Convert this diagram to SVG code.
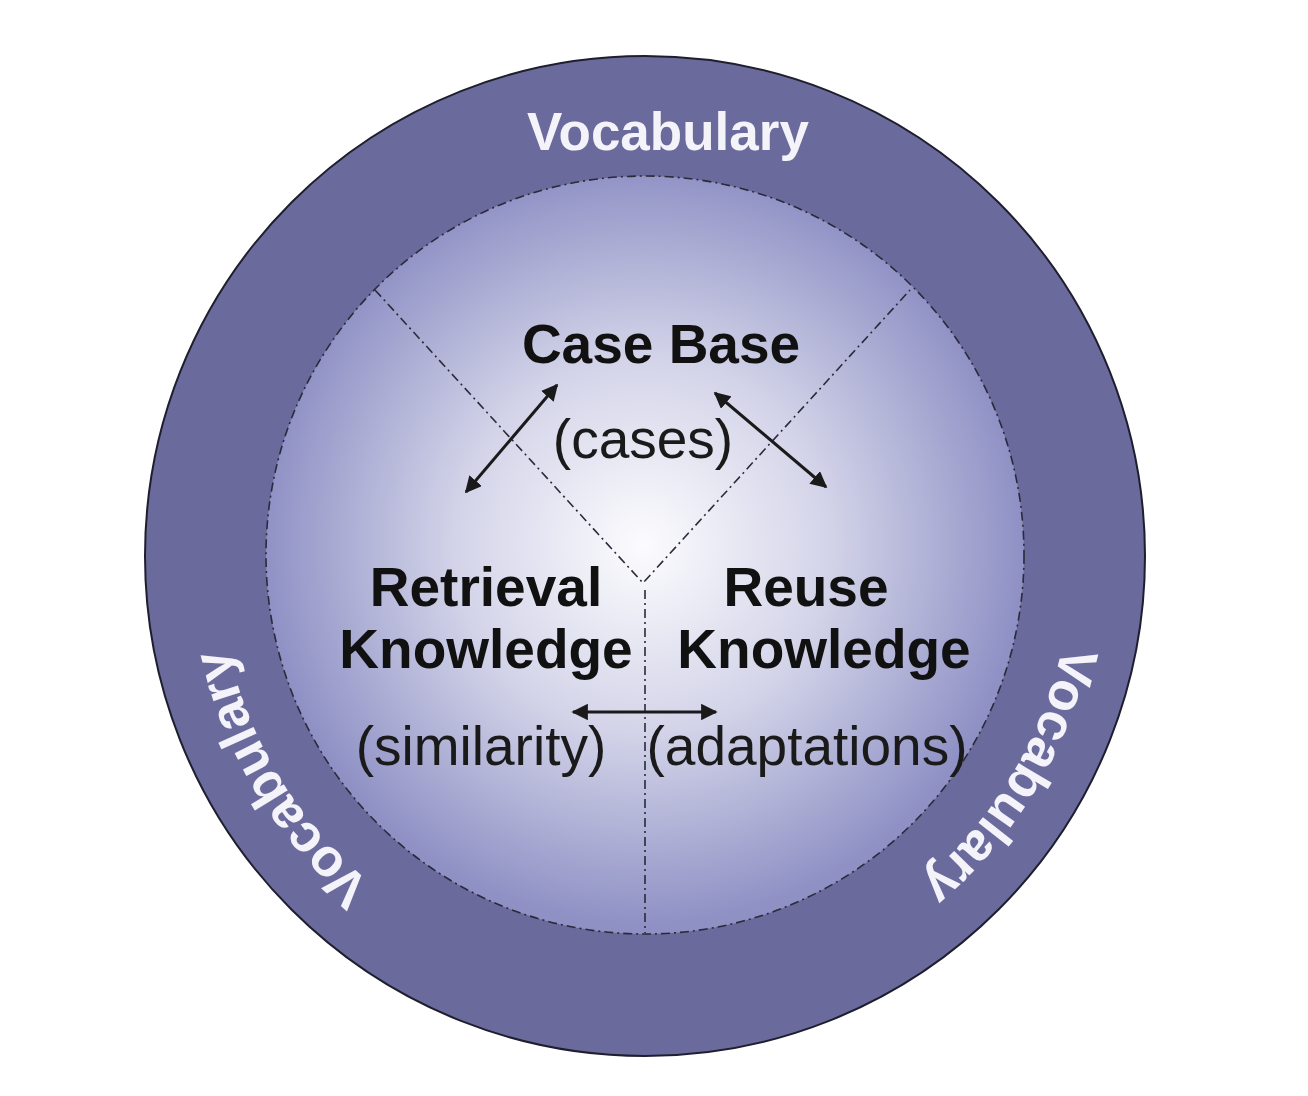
<svg xmlns="http://www.w3.org/2000/svg" width="1308" height="1096" viewBox="0 0 1308 1096">
<defs>
<radialGradient id="ig" cx="643" cy="545" r="379" gradientUnits="userSpaceOnUse">
<stop offset="0" stop-color="#fcfcfe"/>
<stop offset="0.5" stop-color="#d2d3e8"/>
<stop offset="1" stop-color="#8f91c5"/>
</radialGradient>
<marker id="ah" viewBox="0 0 10 10" refX="9" refY="5" markerWidth="5.5" markerHeight="5.5" markerUnits="strokeWidth" orient="auto-start-reverse">
<path d="M0,0 L10,5 L0,10 z" fill="#1a1a1a"/>
</marker>
<path id="ringSide" d="M645,983 A427,427 0 1 1 645,129 A427,427 0 1 1 645,983"/>
</defs>
<style>
.b{font-family:"Liberation Sans",Arial,sans-serif;font-weight:bold;font-size:55px;fill:#111;text-anchor:middle}
.r{font-family:"Liberation Sans",Arial,sans-serif;font-size:55px;fill:#1a1a1a;text-anchor:middle}
.v{font-family:"Liberation Sans",Arial,sans-serif;font-weight:bold;font-size:53px;fill:#f3f3f9;text-anchor:middle}
.dash{fill:none;stroke:#2a2a3a;stroke-width:1.6;stroke-dasharray:9 4 2 4}
.arr{stroke:#1a1a1a;stroke-width:3;fill:none;marker-start:url(#ah);marker-end:url(#ah)}
</style>
<rect width="1308" height="1096" fill="#ffffff"/>
<g id="outer-ring">
<circle cx="645" cy="556" r="500" fill="#6b6a9d" stroke="#1e1e2e" stroke-width="2"/>
<text class="v" x="668" y="150">Vocabulary</text>
<text class="v"><textPath href="#ringSide" startOffset="83.6%">Vocabulary</textPath></text>
<text class="v"><textPath href="#ringSide" startOffset="16.3%">Vocabulary</textPath></text>
</g>
<g id="inner-circle">
<circle cx="645" cy="555" r="379" fill="url(#ig)"/>
<circle class="dash" cx="645" cy="555" r="379"/>
</g>
<g id="dividers">
<path class="dash" d="M375,290 L643,583 L910,290"/>
<path class="dash" d="M645,590 L645,933"/>
</g>
<g id="case-base">
<text class="b" x="661" y="363">Case Base</text>
<text class="r" x="643" y="458">(cases)</text>
</g>
<g id="retrieval-knowledge">
<text class="b" x="486" y="606">Retrieval</text>
<text class="b" x="486" y="668">Knowledge</text>
<text class="r" x="481" y="765">(similarity)</text>
</g>
<g id="reuse-knowledge">
<text class="b" x="806" y="606">Reuse</text>
<text class="b" x="824" y="668">Knowledge</text>
<text class="r" x="807" y="765">(adaptations)</text>
</g>
<g id="connectors">
<line class="arr" x1="466" y1="492" x2="557" y2="385"/>
<line class="arr" x1="715" y1="393" x2="826" y2="487"/>
<line class="arr" x1="573" y1="712" x2="716" y2="712"/>
</g>
</svg>
